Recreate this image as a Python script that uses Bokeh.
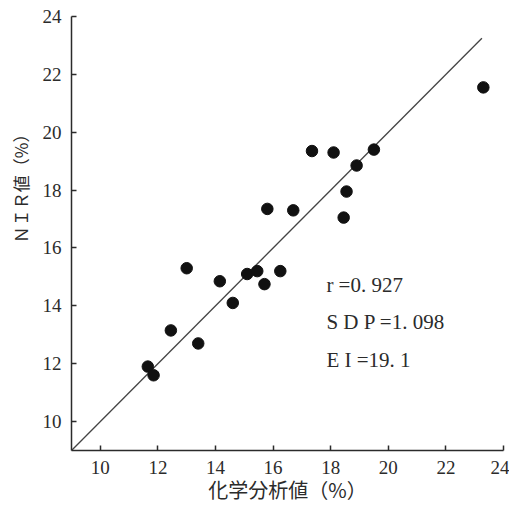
from bokeh.plotting import figure
from bokeh.models import Range1d, Label, FixedTicker, Title
from bokeh.embed import file_html
from bokeh.resources import INLINE

# Chemical analysis (%) vs. NIR predicted value (%)
chem_values = [23.3, 17.35, 18.1, 19.5, 18.9, 18.55, 15.8, 16.7, 18.45,
               13.0, 14.15, 15.1, 15.45, 15.7, 16.25, 14.6, 12.45, 13.4,
               11.65, 11.85]
nir_values = [21.55, 19.35, 19.3, 19.4, 18.85, 17.95, 17.35, 17.3, 17.05,
              15.3, 14.85, 15.1, 15.2, 14.75, 15.2, 14.1, 13.15, 12.7,
              11.9, 11.6]

# 1:1 reference line
line_x = [9.0, 23.25]
line_y = [9.0, 23.25]

tick_values = [10, 12, 14, 16, 18, 20, 22, 24]
stats_lines = ["r =0. 927", "S D P =1. 098", "E I =19. 1"]

SERIF = "Liberation Serif"
CJK = "Noto Sans CJK JP"
INK = "#2b2b2b"

p = figure(width=509, height=507, output_backend="svg", toolbar_location=None,
           x_range=Range1d(9, 24), y_range=Range1d(9, 24),
           min_border_left=71, min_border_right=6, min_border_top=16,
           min_border_bottom=57)
p.outline_line_color = None
p.xgrid.visible = False
p.ygrid.visible = False
p.background_fill_color = "white"
p.border_fill_color = "white"

for ax in (p.xaxis[0], p.yaxis[0]):
    ax.ticker = FixedTicker(ticks=tick_values)
    ax.axis_line_color = INK
    ax.axis_line_width = 1.5
    ax.major_tick_in = 5
    ax.major_tick_out = 0
    ax.major_tick_line_color = INK
    ax.major_tick_line_width = 1.5
    ax.minor_tick_line_color = None
    ax.major_label_text_font = SERIF
    ax.major_label_text_font_size = "19px"
    ax.major_label_text_color = INK

p.xaxis.major_label_standoff = 10
p.yaxis.major_label_standoff = 10
p.xaxis.axis_label = "化学分析値（%）"
p.xaxis.axis_label_text_font = CJK
p.xaxis.axis_label_text_font_style = "normal"
p.xaxis.axis_label_text_font_size = "20px"
p.xaxis.axis_label_text_color = INK
p.xaxis.axis_label_standoff = -2

# vertical axis title, anchored towards the top of the axis
p.add_layout(Title(text="ＮＩＲ値（%）", align="right", offset=109,
                   vertical_align="top",
                   text_font=CJK, text_font_size="17px", text_color=INK,
                   text_font_style="normal", standoff=10), "left")

p.line(line_x, line_y, line_color="#444444", line_width=1.3)
p.scatter(chem_values, nir_values, size=11.5, fill_color="#111111",
          line_color="#111111")

for i, txt in enumerate(stats_lines):
    p.add_layout(Label(x=17.85, y=14.72 - i * 1.29, text=txt,
                       text_font=SERIF, text_font_size="21px",
                       text_color=INK, text_align="left",
                       text_baseline="middle"))

open("out.html", "w").write(file_html(p, INLINE))
